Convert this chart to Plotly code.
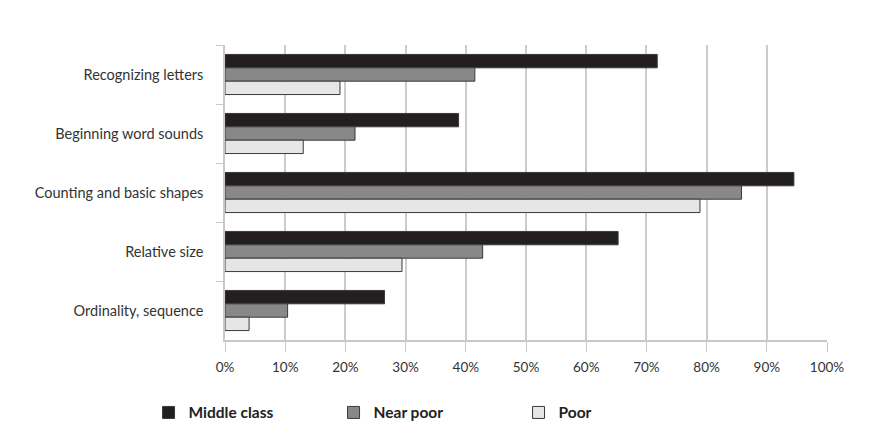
import plotly.graph_objects as go

# Données (part des enfants, en fraction)
categories = [
    "Recognizing letters",
    "Beginning word sounds",
    "Counting and basic shapes",
    "Relative size",
    "Ordinality, sequence",
]
middle_class = [0.718, 0.388, 0.945, 0.653, 0.265]
near_poor = [0.415, 0.216, 0.858, 0.428, 0.104]
poor = [0.191, 0.130, 0.789, 0.294, 0.040]

series = [
    ("Middle class", middle_class, "#231f20"),
    ("Near poor", near_poor, "#888888"),
    ("Poor", poor, "#e6e6e8"),
]

fig = go.Figure()
for name, values, color in series:
    fig.add_trace(go.Bar(
        y=categories,
        x=values,
        name=name,
        orientation="h",
        marker=dict(color=color, line=dict(color="#3a3a3a", width=1)),
    ))

# la page ajoute 8 px de marge autour du graphique -> on compense
fig.update_layout(
    width=871,
    height=438,
    margin=dict(l=217, r=52, t=37, b=106),
    plot_bgcolor="white",
    paper_bgcolor="white",
    barmode="group",
    bargap=0.32,
    bargroupgap=0,
    font=dict(family="Lato, Open Sans, sans-serif", size=14.5, color="#333333"),
    showlegend=True,
    legend=dict(
        orientation="h",
        x=-0.127,
        xanchor="left",
        y=-0.247,
        yanchor="middle",
        entrywidth=140,
        font=dict(size=15.5, color="#222222", weight="bold"),
        traceorder="normal",
    ),
)

fig.update_xaxes(
    range=[0, 1],
    tickvals=[i / 10 for i in range(11)],
    tickformat=".0%",
    showgrid=True,
    gridcolor="#cccccc",
    gridwidth=1.5,
    showline=True,
    linecolor="#c8c8c8",
    linewidth=1.5,
    ticks="outside",
    ticklen=10,
    tickcolor="#c8c8c8",
    ticklabelstandoff=4,
    zeroline=False,
    tickfont=dict(size=13.5),
)

fig.update_yaxes(
    categoryorder="array",
    categoryarray=categories,
    autorange="reversed",
    showline=True,
    linecolor="#c8c8c8",
    linewidth=1.5,
    ticks="outside",
    tickson="boundaries",
    ticklen=7,
    tickcolor="#c8c8c8",
    showgrid=False,
    ticklabelstandoff=17,
    tickfont=dict(size=14.5),
)

fig.write_html("out.html")
